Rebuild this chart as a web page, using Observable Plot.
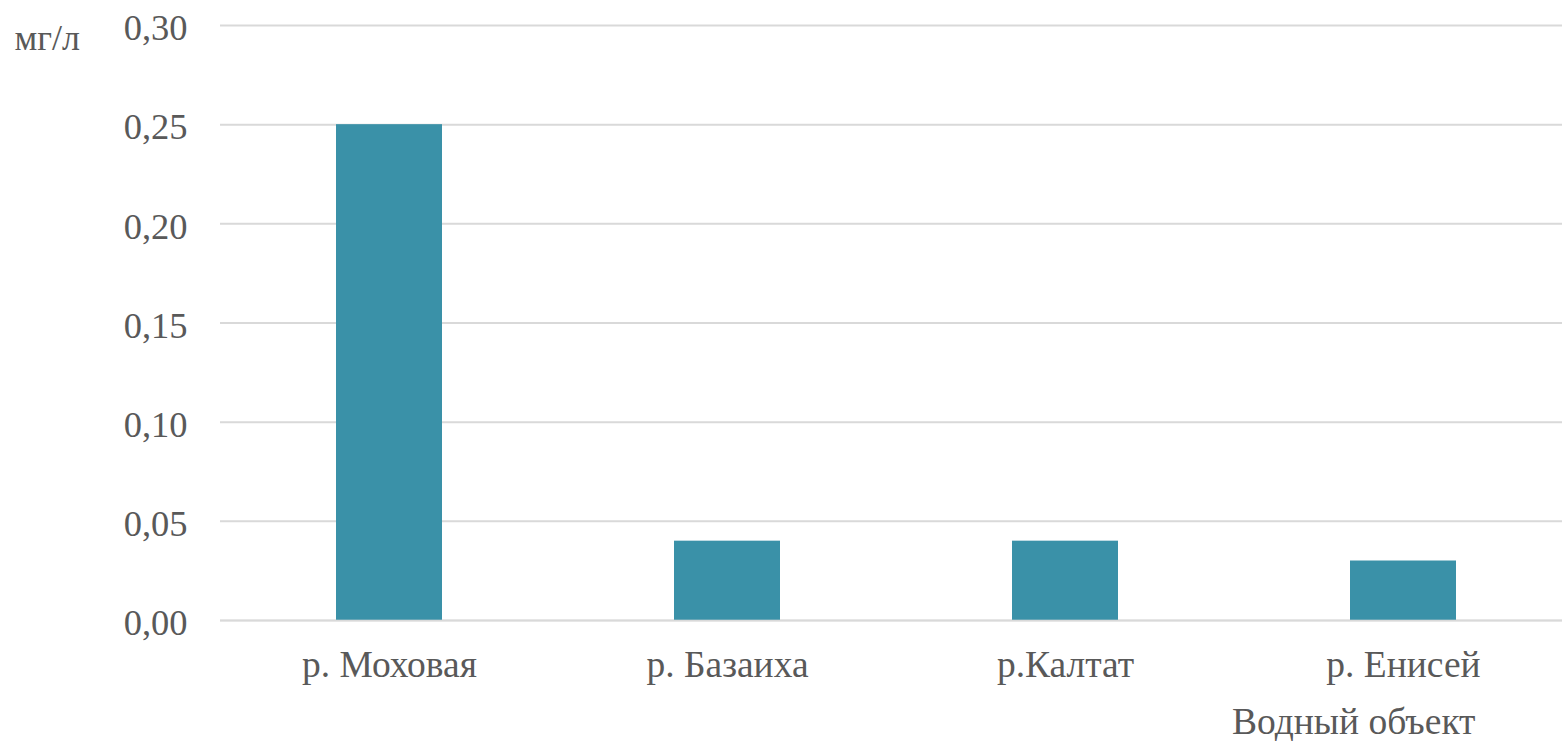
<!DOCTYPE html>
<html>
<head>
<meta charset="utf-8">
<script src="https://cdn.jsdelivr.net/npm/d3@7"></script>
<script src="https://cdn.jsdelivr.net/npm/@observablehq/plot@0.6"></script>
<style>
  html, body { margin: 0; padding: 0; background: #fff; }
  #chart svg { display: block; }
</style>
</head>
<body>
<div id="chart"></div>
<script>
const categories = ["р. Моховая", "р. Базаиха", "р.Калтат", "р. Енисей"];
const values = [0.25, 0.04, 0.04, 0.03];
const yTicks = [0, 0.05, 0.10, 0.15, 0.20, 0.25, 0.30];
const yUnit = "мг/л";
const xTitle = "Водный объект";

const data = categories.map((c, i) => ({category: c, value: values[i]}));
const ruFormat = d3.formatLocale({decimal: ",", thousands: " ", grouping: [3], currency: ["", ""]}).format(".2f");

const TEXT = "#595959";
const FONT = "Liberation Serif, Times New Roman, serif";

const chart = Plot.plot({
  width: 1562,
  height: 741,
  marginLeft: 220,
  marginRight: 0,
  marginTop: 25,
  marginBottom: 121,
  style: {fontSize: "37px", fontFamily: FONT, color: TEXT, background: "#fff"},
  x: {domain: categories, range: [220, 1573], paddingInner: 0.686, paddingOuter: 0.343, label: null},
  y: {domain: [0, 0.3], label: null},
  marks: [
    Plot.ruleY(yTicks, {stroke: "#d9d9d9", strokeWidth: 2}),
    Plot.barY(data, {x: "category", y: "value", fill: "#3a91a8"}),
    Plot.ruleY([0], {stroke: "#d9d9d9", strokeWidth: 2, strokeOpacity: 0.6}),
    Plot.axisY({ticks: yTicks, tickSize: 0, tickPadding: 33, tickFormat: ruFormat, fontSize: 36.5, fontFamily: FONT, fill: TEXT, dy: 3, label: null}),
    Plot.axisX({tickSize: 0, tickPadding: 30, fontSize: 37.5, fontFamily: FONT, fill: TEXT, label: null}),
    Plot.text([yUnit], {frameAnchor: "top-left", dx: -206, dy: -1, textAnchor: "start", fontSize: 36, fontFamily: FONT, fill: TEXT}),
    Plot.text([xTitle], {frameAnchor: "bottom-right", dx: -87, dy: 113, textAnchor: "end", fontSize: 37.5, fontFamily: FONT, fill: TEXT})
  ]
});
document.getElementById("chart").appendChild(chart);
</script>
</body>
</html>
